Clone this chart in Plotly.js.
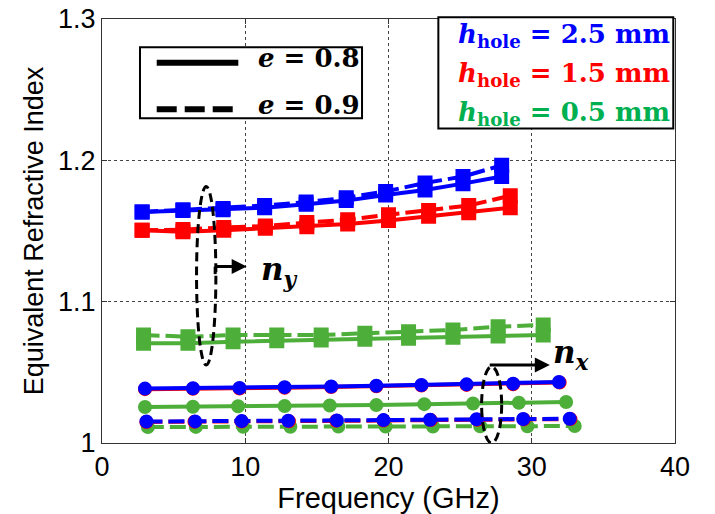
<!DOCTYPE html>
<html>
<head>
<meta charset="utf-8">
<script src="https://cdn.plot.ly/plotly-3.0.1.min.js"></script>
<style>html,body{margin:0;padding:0;background:#fff;}#chart{width:715px;height:514px;}</style>
</head>
<body>
<div id="chart"></div>
<script>
// ---- n_y (squares) ----
const fBlueSq  = [2.8, 5.65, 8.45, 11.35, 14.25, 17.05, 19.8, 22.55, 25.2, 27.9];
const nyBlue08 = [1.1635, 1.1645, 1.165, 1.1665, 1.169, 1.1715, 1.1755, 1.179, 1.1835, 1.1885];
const nyBlue09 = [1.1635, 1.165, 1.166, 1.168, 1.1705, 1.1735, 1.178, 1.184, 1.1885, 1.1965];
const fRedSq   = [2.8, 5.65, 8.5, 11.4, 14.3, 17.15, 20.0, 22.8, 25.6, 28.5];
const nyRed08  = [1.1505, 1.1495, 1.1505, 1.152, 1.153, 1.155, 1.1575, 1.1605, 1.163, 1.1665];
const nyRed09  = [1.1505, 1.151, 1.1525, 1.1535, 1.156, 1.158, 1.1615, 1.1645, 1.168, 1.175];
const fGreenSq = [2.9, 6.0, 9.15, 12.2, 15.3, 18.35, 21.4, 24.5, 27.65, 30.8];
const nyGreen08 = [1.0706, 1.0706, 1.0717, 1.0724, 1.0729, 1.0734, 1.0741, 1.0748, 1.0757, 1.0764];
const nyGreen09 = [1.0764, 1.0752, 1.0764, 1.0764, 1.0764, 1.0776, 1.0788, 1.0800, 1.0823, 1.0835];
// ---- n_x (circles) ----
const fBlueCi08 = [3.0, 6.35, 9.6, 12.75, 16.0, 19.15, 22.3, 25.45, 28.7, 31.9];
const nxBlue08  = [1.0385, 1.0387, 1.039, 1.0395, 1.04, 1.0405, 1.041, 1.0415, 1.042, 1.0432];
const fRedCi08  = [3.0, 6.35, 9.6, 12.75, 16.0, 19.15, 22.3, 25.45, 28.7, 31.95];
const nxRed08   = [1.0381, 1.0383, 1.0386, 1.0391, 1.0396, 1.0401, 1.0406, 1.0411, 1.0416, 1.0428];
const fGreenCi08 = [3.0, 6.35, 9.5, 12.75, 15.9, 19.15, 22.5, 25.9, 29.1, 32.4];
const nxGreen08  = [1.0255, 1.0257, 1.026, 1.0262, 1.0265, 1.0268, 1.0275, 1.028, 1.0285, 1.029];
const fBlueCi09 = [3.1, 6.5, 9.75, 13.0, 16.4, 19.65, 22.9, 26.15, 29.4, 32.65];
const nxBlue09  = [1.0152, 1.0153, 1.0155, 1.0157, 1.016, 1.0162, 1.0165, 1.0168, 1.017, 1.0172];
const fRedCi09  = [3.1, 6.45, 9.75, 13.05, 16.35, 19.65, 22.95, 26.2, 29.45, 32.7];
const nxRed09   = [1.0149, 1.015, 1.0152, 1.0154, 1.0157, 1.0159, 1.0162, 1.0165, 1.0167, 1.0169];
const fGreenCi09 = [3.2, 6.55, 9.85, 13.15, 16.5, 19.8, 23.1, 26.4, 29.7, 33.0];
const nxGreen09  = [1.0113, 1.0114, 1.0115, 1.0115, 1.0116, 1.0117, 1.0117, 1.0118, 1.0118, 1.012];

const xTicks = [0, 10, 20, 30, 40];
const yTicks = [1, 1.1, 1.2, 1.3];
const legendE = ['<b><i>e</i> = 0.8</b>', '<b><i>e</i> = 0.9</b>'];
const legendH = ['2.5', '1.5', '0.5'];

const BLUE = '#0000FF', RED = '#FF0000', GREEN = '#4DAF3A', GREEN_TXT = '#00B050';
const DASH = '16px,6px';

function tr(x, y, color, dashed, sym) {
  const isSq = sym === 'square';
  return {
    x: x, y: y, type: 'scatter', mode: 'lines+markers', showlegend: false, hoverinfo: 'skip',
    line: {color: color, width: 4, dash: dashed ? DASH : 'solid'},
    marker: {symbol: isSq ? 'square' : 'circle', size: isSq ? 12 : 11, color: color,
             line: {color: color, width: 3}}
  };
}

const data = [
  tr(fGreenSq, nyGreen09, GREEN, true, 'square'),
  tr(fGreenSq, nyGreen08, GREEN, false, 'square'),
  tr(fRedSq, nyRed09, RED, true, 'square'),
  tr(fRedSq, nyRed08, RED, false, 'square'),
  tr(fBlueSq, nyBlue09, BLUE, true, 'square'),
  tr(fBlueSq, nyBlue08, BLUE, false, 'square'),
  tr(fGreenCi09, nxGreen09, GREEN, true, 'circle'),
  tr(fGreenCi08, nxGreen08, GREEN, false, 'circle'),
  tr(fRedCi09, nxRed09, RED, true, 'circle'),
  tr(fRedCi08, nxRed08, RED, false, 'circle'),
  tr(fBlueCi09, nxBlue09, BLUE, true, 'circle'),
  tr(fBlueCi08, nxBlue08, BLUE, false, 'circle')
];

const SERIF = 'DejaVu Serif, Liberation Serif, serif';
const shapes = [
  {type: 'rect', xref: 'paper', yref: 'paper', x0: 0.0663, x1: 0.4538, y0: 0.7658, y1: 0.9333,
   line: {color: '#000', width: 2}, fillcolor: '#fff', layer: 'above'},
  {type: 'line', xref: 'paper', yref: 'paper', x0: 0.0955, x1: 0.2379, y0: 0.897, y1: 0.897,
   line: {color: '#000', width: 6}, layer: 'above'},
  {type: 'line', xref: 'paper', yref: 'paper', x0: 0.0955, x1: 0.2379, y0: 0.787, y1: 0.787,
   line: {color: '#000', width: 6, dash: '20px,8px'}, layer: 'above'},
  {type: 'rect', xref: 'paper', yref: 'paper', x0: 0.587, x1: 0.997, y0: 0.742, y1: 1.004,
   line: {color: '#000', width: 2}, fillcolor: '#fff', layer: 'above'},
  {type: 'circle', xref: 'x', yref: 'y', x0: 6.6, x1: 7.95, y0: 1.0552, y1: 1.1814,
   line: {color: '#000', width: 3, dash: '9px,5px'}},
  {type: 'line', xref: 'x', yref: 'y', x0: 7.9, x1: 7.9, y0: 1.1195, y1: 1.1248,
   line: {color: '#000', width: 3}},
  {type: 'circle', xref: 'x', yref: 'y', x0: 26.5, x1: 27.9, y0: 1.0, y1: 1.054,
   line: {color: '#000', width: 3, dash: '9px,5px'}}
];

const annotations = [
  {xref: 'paper', yref: 'paper', x: 0.2688, y: 0.908, xanchor: 'left', yanchor: 'middle', showarrow: false,
   text: legendE[0], font: {family: SERIF, size: 26, color: '#000'}},
  {xref: 'paper', yref: 'paper', x: 0.2688, y: 0.797, xanchor: 'left', yanchor: 'middle', showarrow: false,
   text: legendE[1], font: {family: SERIF, size: 26, color: '#000'}},
  {xref: 'paper', yref: 'paper', x: 0.618, y: 0.962, xanchor: 'left', yanchor: 'middle', showarrow: false,
   text: '<b><i>h</i><sub>hole</sub> = ' + legendH[0] + ' mm</b>', font: {family: SERIF, size: 26, color: BLUE}},
  {xref: 'paper', yref: 'paper', x: 0.618, y: 0.868, xanchor: 'left', yanchor: 'middle', showarrow: false,
   text: '<b><i>h</i><sub>hole</sub> = ' + legendH[1] + ' mm</b>', font: {family: SERIF, size: 26, color: RED}},
  {xref: 'paper', yref: 'paper', x: 0.618, y: 0.778, xanchor: 'left', yanchor: 'middle', showarrow: false,
   text: '<b><i>h</i><sub>hole</sub> = ' + legendH[2] + ' mm</b>', font: {family: SERIF, size: 26, color: GREEN_TXT}},
  {xref: 'x', yref: 'y', axref: 'x', ayref: 'y', x: 10.1, y: 1.1248, ax: 7.9, ay: 1.1248, text: '',
   showarrow: true, arrowhead: 2, arrowsize: 1, arrowwidth: 3, arrowcolor: '#000'},
  {xref: 'x', yref: 'y', axref: 'x', ayref: 'y', x: 31.26, y: 1.0552, ax: 26.96, ay: 1.0552, text: '',
   showarrow: true, arrowhead: 2, arrowsize: 1, arrowwidth: 3, arrowcolor: '#000'},
  {xref: 'x', yref: 'y', x: 12.4, y: 1.121, xanchor: 'center', yanchor: 'middle', showarrow: false,
   text: '<b><i>n</i><sub><i>y</i></sub></b>', font: {family: SERIF, size: 31, color: '#000'}},
  {xref: 'x', yref: 'y', x: 32.8, y: 1.0625, xanchor: 'center', yanchor: 'middle', showarrow: false,
   text: '<b><i>n</i><sub><i>x</i></sub></b>', font: {family: SERIF, size: 31, color: '#000'}}
];

const AXFONT = 'Liberation Sans, Arial, sans-serif';
const layout = {
  width: 715, height: 514,
  margin: {l: 102, r: 40, t: 19, b: 71, pad: 0},
  paper_bgcolor: '#fff', plot_bgcolor: '#fff',
  showlegend: false,
  xaxis: {
    range: [0, 40], tickvals: xTicks, ticks: 'inside', ticklen: 5, tickcolor: '#333',
    showline: true, mirror: 'ticks', linecolor: '#333', linewidth: 1,
    showgrid: true, gridcolor: '#444', griddash: 'dot', gridwidth: 1, zeroline: false,
    tickfont: {family: AXFONT, size: 27, color: '#000'},
    title: {text: 'Frequency (GHz)', font: {family: AXFONT, size: 29, color: '#000'}, standoff: 2}
  },
  yaxis: {
    range: [1, 1.3], tickvals: yTicks, ticks: 'inside', ticklen: 5, tickcolor: '#333',
    showline: true, mirror: 'ticks', linecolor: '#333', linewidth: 1,
    showgrid: true, gridcolor: '#444', griddash: 'dot', gridwidth: 1, zeroline: false,
    tickfont: {family: AXFONT, size: 27, color: '#000'},
    title: {text: 'Equivalent Refractive Index', font: {family: AXFONT, size: 27, color: '#000'}, standoff: 6}
  },
  shapes: shapes,
  annotations: annotations
};

Plotly.newPlot('chart', data, layout, {displayModeBar: false, staticPlot: true});
</script>
</body>
</html>
